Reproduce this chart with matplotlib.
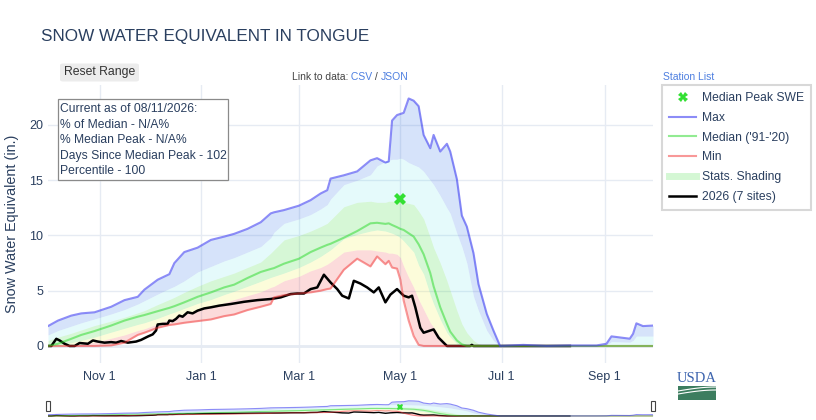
import numpy as np
import pandas as pd
import matplotlib
matplotlib.use('Agg')
import matplotlib.pyplot as plt
import matplotlib.dates as mdates
from matplotlib.lines import Line2D
from matplotlib.patches import Rectangle, FancyBboxPatch
from matplotlib.ticker import FuncFormatter

plt.rcParams['font.family'] = ['Liberation Sans', 'DejaVu Sans']

wy_start = pd.Timestamp('2025-10-01')

# statistics, days since Oct 1
stat_days = [0, 6, 14, 20, 28, 38, 46, 54, 58, 66, 73, 76, 82, 90, 98, 106, 112, 120, 128, 134,
             136, 142, 151, 158, 164, 168, 170, 178, 186, 194, 198, 203, 205, 207, 210, 212, 214, 217, 220, 223,
             226, 230, 232, 236, 240, 242, 246, 249, 252, 256, 259, 264, 268, 272, 286, 300, 314, 330, 336, 339,
             350, 352, 354, 358, 364]
swe_max = [1.8, 2.3, 2.75, 2.95, 3.05, 3.55, 4.15, 4.45, 5.1, 6.0, 6.5, 7.5, 8.5, 8.9, 9.6, 9.9, 10.15, 10.6, 11.2, 12.0,
           12.1, 12.3, 12.7, 13.2, 13.8, 14.1, 15.15, 15.45, 15.8, 16.8, 17.0, 16.6, 16.7, 20.4, 20.9, 21.0, 21.1, 22.4, 22.2, 21.7,
           19.1, 17.9, 19.1, 17.6, 18.3, 17.6, 15.1, 11.8, 10.8, 8.4, 5.6, 2.9, 1.4, 0, 0.1, 0, 0.05, 0.05, 0.2, 0.87,
           0.66, 1.1, 2.05, 1.8, 1.85]
swe_p90 = [1.0, 1.4, 1.8, 2.1, 2.45, 2.9, 3.3, 3.8, 4.1, 4.7, 5.2, 5.4, 5.9, 6.7, 7.2, 7.7, 8.0, 8.5, 9.0, 9.8,
           10.3, 11.1, 11.5, 11.9, 12.4, 12.8, 13.3, 14.6, 15.0, 15.5, 16.3, 16.7, 16.8, 16.9, 16.9, 17.0, 16.9, 16.6, 16.4, 16.2,
           15.8, 15.0, 14.6, 13.6, 12.5, 12.0, 10.2, 9.0, 7.5, 4.5, 3.2, 1.4, 0.5, 0, 0, 0, 0, 0, 0.1, 0.4,
           0.35, 0.5, 0.9, 0.9, 0.9]
swe_p70 = [0.5, 0.8, 1.15, 1.45, 1.85, 2.25, 2.6, 3.0, 3.2, 3.75, 4.2, 4.4, 4.85, 5.4, 5.9, 6.3, 6.6, 7.1, 7.6, 8.4,
           8.7, 9.6, 10.0, 10.4, 10.8, 11.1, 11.4, 12.6, 13.0, 13.1, 13.0, 13.0, 13.1, 13.1, 13.0, 13.1, 13.0, 12.9, 12.8, 12.2,
           11.5, 9.8, 8.9, 7.5, 5.9, 5.0, 3.2, 2.0, 1.2, 0.5, 0.2, 0, 0, 0, 0, 0, 0, 0, 0, 0,
           0, 0, 0, 0, 0]
swe_median = [0, 0.2, 0.65, 1.0, 1.35, 1.85, 2.3, 2.65, 2.8, 3.15, 3.45, 3.6, 3.95, 4.45, 4.85, 5.3, 5.55, 6.15, 6.7, 6.97,
              7.05, 7.45, 7.9, 8.5, 8.9, 9.15, 9.25, 9.8, 10.4, 11.1, 11.15, 11.05, 11.1, 10.95, 10.75, 10.6, 10.5, 10.2, 9.9, 9.2,
              8.3, 6.6, 5.4, 3.5, 2.0, 1.3, 0.5, 0.15, 0, 0, 0, 0, 0, 0, 0, 0, 0, 0, 0, 0,
              0, 0, 0, 0, 0]
swe_p30 = [0, 0.05, 0.3, 0.5, 0.8, 1.25, 1.6, 1.95, 2.1, 2.5, 2.9, 3.05, 3.4, 3.85, 4.2, 4.65, 4.95, 5.4, 5.85, 6.2,
           6.3, 6.6, 7.1, 7.6, 8.1, 8.5, 8.7, 9.7, 10.1, 10.4, 10.5, 10.4, 10.3, 10.2, 10.0, 9.8, 9.5, 9.0, 8.5, 7.3,
           6.5, 4.6, 3.8, 2.4, 1.2, 0.8, 0.2, 0, 0, 0, 0, 0, 0, 0, 0, 0, 0, 0, 0, 0,
           0, 0, 0, 0, 0]
swe_p10 = [0, 0, 0.05, 0.15, 0.35, 0.7, 1.0, 1.4, 1.55, 2.0, 2.4, 2.55, 2.85, 3.2, 3.55, 3.9, 4.2, 4.55, 4.9, 5.3,
           5.4, 5.9, 6.3, 6.8, 7.1, 7.4, 7.6, 8.5, 8.7, 8.7, 8.6, 8.5, 8.4, 8.4, 8.3, 8.0, 7.2, 6.2, 5.3, 4.2,
           3.3, 2.1, 1.7, 0.8, 0.2, 0.1, 0, 0, 0, 0, 0, 0, 0, 0, 0, 0, 0, 0, 0, 0,
           0, 0, 0, 0, 0]
swe_min = [0, 0, 0, 0, 0, 0.05, 0.3, 1.0, 1.2, 1.65, 1.9, 1.95, 2.1, 2.25, 2.4, 2.7, 2.85, 3.25, 3.55, 3.8,
           4.4, 4.6, 4.75, 4.85, 5.0, 5.15, 5.2, 6.9, 7.9, 7.2, 8.1, 7.4, 7.7, 7.1, 7.0, 6.0, 4.1, 2.3, 0.9, 0.1,
           0, 0, 0, 0, 0, 0, 0, 0, 0, 0, 0, 0, 0, 0, 0, 0, 0, 0, 0, 0,
           0, 0, 0, 0, 0]

# current water year, 7 sites
wy_days = [0, 2, 5, 7, 10, 13, 16, 19, 24, 27, 30, 34, 38, 41, 44, 48, 53, 56, 60, 63,
           65, 66, 69, 72, 73, 75, 77, 79, 81, 84, 87, 90, 94, 98, 103, 110, 118, 126, 134, 140,
           146, 150, 154, 158, 162, 166, 170, 174, 177, 181, 184, 188, 192, 196, 199, 203, 206, 210, 214, 217,
           219, 221, 224, 226, 229, 232, 235, 240, 254, 255, 256, 314]
wy_swe = [0, 0, 0.65, 0.5, 0.2, 0, 0, 0.27, 0.2, 0.5, 0.4, 0.3, 0.35, 0.3, 0.45, 0.3, 0.4, 0.55, 0.85, 1.05,
          1.4, 1.95, 2.0, 2.0, 2.3, 2.25, 2.45, 2.75, 2.65, 3.05, 2.95, 3.2, 3.4, 3.5, 3.65, 3.8, 4.0, 4.15, 4.25, 4.4,
          4.7, 4.75, 4.75, 5.15, 5.3, 6.45, 5.75, 5.15, 4.55, 4.3, 5.9, 5.65, 5.3, 4.85, 5.3, 3.95, 4.65, 5.15, 4.55, 4.4,
          4.55, 3.5, 1.65, 1.2, 1.35, 1.5, 0.75, 0, 0, 0.1, 0, 0]

peak_date = pd.Timestamp('2026-05-01')
peak_swe = 13.3

info_lines = ['Current as of 08/11/2026:', '% of Median - N/A%', '% Median Peak - N/A%',
              'Days Since Median Peak - 102', 'Percentile - 100']
legend_labels = ['Median Peak SWE', 'Max', "Median ('91-'20)", 'Min', 'Stats. Shading', '2026 (7 sites)']

sd = (wy_start + pd.to_timedelta(stat_days, unit='D')).to_numpy()
cd = (wy_start + pd.to_timedelta(wy_days, unit='D')).to_numpy()

txt = '#2a3f5f'
c_max = (0.25, 0.25, 0.95, 0.6)
c_med = (0.15, 0.85, 0.15, 0.5)
c_min = (0.95, 0.2, 0.2, 0.5)
c_peak = '#33e033'
bands = [(swe_p90, swe_max, (0.2, 0.45, 0.9, 0.2)),
         (swe_p70, swe_p90, (0.18, 0.84, 0.9, 0.12)),
         (swe_p30, swe_p70, (0.2, 0.85, 0.2, 0.2)),
         (swe_p10, swe_p30, (0.95, 0.95, 0.15, 0.17)),
         (swe_min, swe_p10, (0.95, 0.3, 0.3, 0.2))]

W, H = 816, 420
def fx(x):
    return x / W
def fy(y):
    return 1 - y / H

fig = plt.figure(figsize=(W / 100, H / 100), dpi=100)
x0 = wy_start
x1 = wy_start + pd.Timedelta(days=364)


def draw_data(a, lw, blw, ms):
    for lo, hi, col in bands:
        a.fill_between(sd, lo, hi, color=col, lw=0, zorder=1)
    a.plot(cd, wy_swe, color='black', lw=blw, zorder=3)
    a.plot(sd, swe_min, color=c_min, lw=lw, zorder=4)
    a.plot(sd, swe_median, color=c_med, lw=lw, zorder=4)
    a.plot(sd, swe_max, color=c_max, lw=lw, zorder=4)
    a.plot([peak_date], [peak_swe], marker='X', color=c_peak, ms=ms, mew=0, ls='None', zorder=5)
    a.set_xlim(x0, x1)
    a.set_ylim(-1.54, 23.62)
    for s in a.spines.values():
        s.set_visible(False)


ax = fig.add_axes([fx(48), fy(363), (653 - 48) / W, (363 - 85) / H])
draw_data(ax, 1.5, 1.8, 8)
ax.set_axisbelow(True)
ax.grid(color='#e6ebf3', lw=1)
ax.axhline(0, color='#e6ebf3', lw=2, zorder=0.5)
ax.set_yticks([0, 5, 10, 15, 20])
ax.xaxis.set_major_locator(mdates.MonthLocator(bymonth=[11, 1, 3, 5, 7, 9]))
ax.xaxis.set_major_formatter(FuncFormatter(lambda v, p: mdates.num2date(v).strftime('%b') + ' ' + str(mdates.num2date(v).day)))
ax.tick_params(axis='both', length=0, labelsize=9, labelcolor=txt)
ax.tick_params(axis='x', pad=6)
ax.tick_params(axis='y', pad=3.5)

# range slider
sl = fig.add_axes([fx(48), fy(417), (653 - 48) / W, 17 / H])
draw_data(sl, 0.8, 1.0, 5)
sl.set_xticks([])
sl.set_yticks([])
for hx in (45.5, 650.5):
    fig.add_artist(Rectangle((fx(hx), fy(411)), 4 / W, 10 / H, transform=fig.transFigure,
                             facecolor='white', edgecolor='#444444', lw=0.8, zorder=10))

# titles and texts
fig.text(fx(41), fy(37), 'SNOW WATER EQUIVALENT IN TONGUE', ha='left', va='center', fontsize=12.3, color=txt)
fig.text(fx(12), fy(224), 'Snow Water Equivalent (in.)', rotation=90, ha='center', va='center',
         fontsize=10.4, color=txt)

fig.add_artist(FancyBboxPatch((fx(60), fy(81.5)), 79 / W, 18 / H, boxstyle='round,pad=0,rounding_size=0.004',
                              transform=fig.transFigure, facecolor='#ececec', edgecolor='none'))
fig.text(fx(100), fy(72), 'Reset Range', ha='center', va='center', fontsize=8.8, color='#333333')

link_col = '#4d7fe0'
t1 = fig.text(fx(292), fy(77), 'Link to data:', ha='left', va='center', fontsize=7.5, color='#444444')
t2 = plt.annotate(' CSV', xy=(1, 0), xycoords=t1, va='bottom', fontsize=7.5, color=link_col)
t3 = plt.annotate(' / ', xy=(1, 0), xycoords=t2, va='bottom', fontsize=7.5, color='#444444')
plt.annotate('JSON', xy=(1, 0), xycoords=t3, va='bottom', fontsize=7.5, color=link_col)
fig.text(fx(663), fy(77), 'Station List', ha='left', va='center', fontsize=7.5, color=link_col)

# info box
fig.add_artist(Rectangle((fx(57.7), fy(180)), 170 / W, 80.7 / H, transform=fig.transFigure,
                         facecolor='white', edgecolor='#8a8a8a', lw=0.9, zorder=6))
for i, line in enumerate(info_lines):
    fig.text(fx(60), fy(109 + i * 15.5), line, ha='left', va='center', fontsize=8.7, color=txt, zorder=7)

# legend
handles = [Line2D([], [], marker='X', color=c_peak, ms=7, mew=0, ls='None'),
           Line2D([], [], color=c_max, lw=1.5),
           Line2D([], [], color=c_med, lw=1.5),
           Line2D([], [], color=c_min, lw=1.5),
           Line2D([], [], color='#d4f7d4', lw=5),
           Line2D([], [], color='black', lw=1.8)]
leg = fig.legend(handles, legend_labels, loc='upper left', bbox_to_anchor=(fx(661.7), fy(85)),
                 fontsize=8.7, labelspacing=0.64, handlelength=2.25, handletextpad=0.45, borderpad=0.6,
                 borderaxespad=0, fancybox=False, edgecolor='#d8d8d8', framealpha=1)
leg.get_frame().set_linewidth(1.5)
for t in leg.get_texts():
    t.set_color(txt)

# USDA mark
fig.text(fx(697), fy(379), 'USDA', ha='center', va='center', fontsize=10.5, color='#3d64ae',
         family='Liberation Serif')
fig.add_artist(Rectangle((fx(678), fy(400)), 38 / W, 14 / H, transform=fig.transFigure,
                         facecolor='#3c7d5f', edgecolor='none'))
sx = np.linspace(678, 716, 20)
for off in (0, 3):
    sy = 391 + off - 4 * np.sin((sx - 678) / 38 * np.pi / 2)
    fig.add_artist(Line2D(fx(sx), fy(sy), transform=fig.transFigure, color='white', lw=0.8))

fig.savefig('out.png', dpi=100)
